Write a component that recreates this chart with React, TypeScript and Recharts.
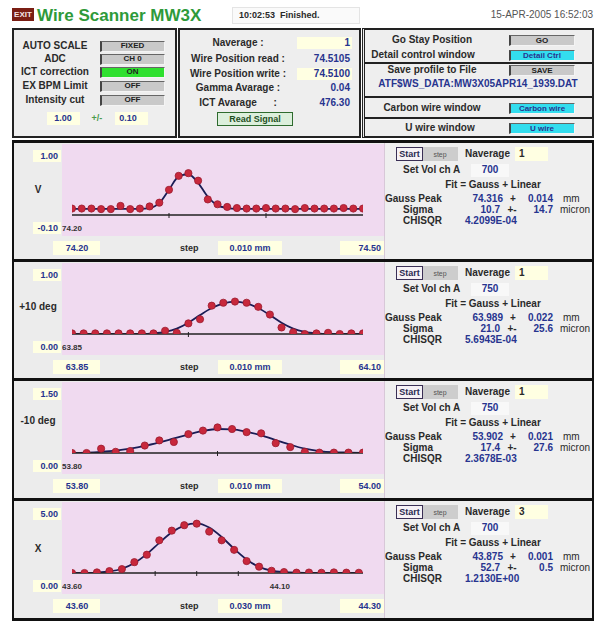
import React from 'react';
import { ComposedChart, Line, XAxis, YAxis } from 'recharts';

const FONT = '"Liberation Sans", "DejaVu Sans", Arial, sans-serif';
const BLUE = '#27348F';
const DARK = '#2A2A2A';
const YEL = '#FFFFE2';
const PINK = '#F0DAF0';
const PANEL_BG = '#ECECEC';

// ---------- Panel 1 (V) ----------
const p1Start = 74.2;
const p1End = 74.5;
const p1Step = 0.01;
const p1Meas = [0.02, 0.02, 0.02, 0.01, 0.01, 0.07, 0.01, 0.02, 0.06, 0.13, 0.37, 0.63, 0.68, 0.54, 0.19, 0.1, 0.05, 0.03, 0.02, 0.02, 0.03, 0.02, 0.02, 0.01, 0.03, 0.02, 0.02, 0.02, 0.03, 0.02, 0.02];
const p1Fit = [0.015, 0.015, 0.015, 0.015, 0.015, 0.015, 0.015, 0.015, 0.03, 0.12, 0.37, 0.62, 0.66, 0.5, 0.24, 0.08, 0.03, 0.015, 0.015, 0.015, 0.015, 0.015, 0.015, 0.015, 0.015, 0.015, 0.015, 0.015, 0.015, 0.015, 0.015];
const p1Y = [-0.1, 1.0];
const p1Marks = [74.3, 74.4];
const p1Labels = [74.2];

// ---------- Panel 2 (+10 deg) ----------
const p2Start = 63.85;
const p2End = 64.1;
const p2Step = 0.01;
const p2Meas = [0.01, 0.01, 0.01, 0.01, 0.01, 0.01, 0.01, 0.01, 0.055, 0.02, 0.18, 0.25, 0.48, 0.53, 0.55, 0.53, 0.46, 0.33, 0.11, 0.03, 0.0, 0.01, 0.02, 0.0, 0.01, 0.01];
const p2Fit = [0, 0, 0, 0, 0, 0, 0, 0.01, 0.035, 0.09, 0.19, 0.32, 0.44, 0.52, 0.55, 0.52, 0.44, 0.32, 0.19, 0.09, 0.035, 0.01, 0, 0, 0, 0];
const p2Y = [0, 1.0];
const p2Marks = [63.95];
const p2Labels = [63.85];

// ---------- Panel 3 (-10 deg) ----------
const p3Start = 53.8;
const p3End = 54.0;
const p3Step = 0.01;
const p3Meas = [0.0, 0.0, 0.11, 0.03, 0.05, 0.19, 0.32, 0.28, 0.48, 0.57, 0.65, 0.61, 0.53, 0.5, 0.25, 0.15, 0.03, 0.01, 0.01, 0.01, 0.01];
const p3Fit = [0.0, 0.01, 0.03, 0.06, 0.11, 0.18, 0.27, 0.37, 0.47, 0.56, 0.61, 0.6, 0.54, 0.45, 0.33, 0.21, 0.11, 0.05, 0.02, 0.01, 0.0];
const p3Y = [0, 1.5];
const p3Marks = [53.9];
const p3Labels = [53.8];

// ---------- Panel 4 (X) ----------
const p4Start = 43.6;
const p4End = 44.3;
const p4Step = 0.03;
const p4Meas = [0.0, 0.0, 0.05, 0.16, 0.33, 0.92, 1.55, 2.77, 3.59, 4.05, 4.18, 3.51, 2.77, 1.96, 1.01, 0.54, 0.19, 0.08, 0.03, 0.04, 0.02, 0.05, 0.03, 0.02];
const p4Fit = [0, 0.01, 0.04, 0.13, 0.36, 0.85, 1.6, 2.55, 3.45, 4.02, 4.2, 3.85, 3.05, 2.05, 1.15, 0.52, 0.2, 0.07, 0.02, 0.01, 0, 0, 0, 0];
const p4Y = [0, 5.0];
const p4Marks = [43.8, 43.9, 44.0];
const p4Labels = [43.6, 44.1];

// ---------- Text tables ----------
const sideLabels = ['V', '+10 deg', '-10 deg', 'X'];
const topLabels = ['1.00', '1.00', '1.50', '5.00'];
const bottomLabels = ['-0.10', '0.00', '0.00', '0.00'];
const rangeLeft = ['74.20', '63.85', '53.80', '43.60'];
const rangeRight = ['74.50', '64.10', '54.00', '44.30'];
const stepTexts = ['0.010 mm', '0.010 mm', '0.010 mm', '0.030 mm'];
const navgValues = ['1', '1', '1', '3'];
const setVolValues = ['700', '750', '750', '700'];
const peakValues = ['74.316', '63.989', '53.902', '43.875'];
const peakErrors = ['0.014', '0.022', '0.021', '0.001'];
const sigmaValues = ['10.7', '21.0', '17.4', '52.7'];
const sigmaErrors = ['14.7', '25.6', '27.6', '0.5'];
const chisqValues = ['4.2099E-04', '5.6943E-04', '2.3678E-03', '1.2130E+00'];

type TxtProps = {
  x: number; y: number; children?: React.ReactNode; size?: number; color?: string;
  align?: 'left' | 'right' | 'center'; weight?: number;
};
function Txt({ x, y, children, size = 10, color = DARK, align = 'left', weight = 700 }: TxtProps) {
  const h = size + 4;
  const w = 400;
  let left = x;
  if (align === 'right') left = x - w;
  else if (align === 'center') left = x - w / 2;
  return (
    <div style={{ position: 'absolute', left, top: y - h / 2, width: w, height: h, lineHeight: `${h}px`, fontSize: size, fontWeight: weight, color, textAlign: align, whiteSpace: 'pre', fontFamily: FONT }}>{children}</div>
  );
}

function Box({ x, y, w, h, bg, style }: { x: number; y: number; w: number; h: number; bg?: string; style?: React.CSSProperties }) {
  return <div style={{ position: 'absolute', left: x, top: y, width: w, height: h, background: bg, boxSizing: 'border-box', ...style }} />;
}

function Btn({ x, y, w, h, bg, text, color = '#222', size = 8 }: { x: number; y: number; w: number; h: number; bg: string; text: string; color?: string; size?: number }) {
  return (
    <>
      <Box x={x} y={y} w={w} h={h} bg={bg} style={{ borderLeft: '2px solid #444', borderTop: '1px solid #666', borderRight: '1px solid #f4f4f4', borderBottom: '1px solid #f4f4f4' }} />
      <Txt x={x + w / 2} y={y + h / 2} align="center" size={size} color={color}>{text}</Txt>
    </>
  );
}

type Cfg = {
  start: number; end: number; step: number; meas: number[]; fit: number[];
  y: number[]; marks: number[]; labels: number[];
};

function ScanChart({ cfg }: { cfg: Cfg }) {
  const data = cfg.meas.map((v, i) => ({ x: +(cfg.start + cfg.step * i).toFixed(3), v, f: cfg.fit[i] }));
  const ticks = [...cfg.labels, ...cfg.marks].sort((a, b) => a - b);
  const near = (arr: number[], v: number) => arr.some((m) => Math.abs(m - v) < 1e-6);
  const renderTick = (props: any) => {
    const { x, y, payload } = props;
    const val = Number(payload.value);
    return (
      <g>
        {near(cfg.marks, val) && <line x1={x} x2={x} y1={y - 2} y2={y + 3} stroke="#222" strokeWidth={1} />}
        {near(cfg.labels, val) && (
          <text x={x} y={y + 16} textAnchor="middle" fontSize={8} fontWeight={700} fill="#333" fontFamily={FONT}>{val.toFixed(2)}</text>
        )}
      </g>
    );
  };
  return (
    <ComposedChart width={323} height={92} data={data} margin={{ top: 12, right: 22, bottom: 0, left: 10 }}>
      <XAxis dataKey="x" type="number" domain={[cfg.start, cfg.end]} ticks={ticks} interval={0} tick={renderTick}
        tickLine={false} tickSize={0} tickMargin={0} axisLine={{ stroke: '#222', strokeWidth: 1.3 }} height={21} allowDataOverflow />
      <YAxis type="number" domain={cfg.y} width={0} tick={false} tickLine={false} axisLine={{ stroke: '#666' }} allowDataOverflow />
      <Line type="monotone" dataKey="f" stroke="#1A1D55" strokeWidth={1.8} dot={false} activeDot={false} isAnimationActive={false} />
      <Line dataKey="v" stroke="none" dot={{ r: 3.6, fill: '#C8283C', stroke: '#9A1A2E', strokeWidth: 0.8 }} activeDot={false} isAnimationActive={false} />
    </ComposedChart>
  );
}

const panelCfgs: Cfg[] = [
  { start: p1Start, end: p1End, step: p1Step, meas: p1Meas, fit: p1Fit, y: p1Y, marks: p1Marks, labels: p1Labels },
  { start: p2Start, end: p2End, step: p2Step, meas: p2Meas, fit: p2Fit, y: p2Y, marks: p2Marks, labels: p2Labels },
  { start: p3Start, end: p3End, step: p3Step, meas: p3Meas, fit: p3Fit, y: p3Y, marks: p3Marks, labels: p3Labels },
  { start: p4Start, end: p4End, step: p4Step, meas: p4Meas, fit: p4Fit, y: p4Y, marks: p4Marks, labels: p4Labels },
];
const panelTops = [140, 259, 378, 498];
const sideLabelY = [50, 48, 43, 51];

function Panel({ idx }: { idx: number }) {
  const T = panelTops[idx];
  const H = idx < 3 ? panelTops[idx + 1] - T : 621 - T;
  const cfg = panelCfgs[idx];
  return (
    <div style={{ position: 'absolute', left: 12, top: T, width: 582, height: H, overflow: 'hidden', background: PANEL_BG }}>
      <div style={{ position: 'absolute', left: -12, top: -T, width: 597, height: 621 }}>
        {/* right section */}
        <Box x={385} y={T} w={210} h={H} bg="#EFEFEF" />
        {/* plot */}
        <div style={{ position: 'absolute', left: 62, top: T + 4, width: 323, height: 92, background: PINK }}>
          <ScanChart cfg={cfg} />
        </div>
        {/* left labels */}
        <Box x={33} y={T + 10} w={28} h={12} bg={YEL} />
        <Txt x={58} y={T + 16} align="right" size={9} color={BLUE}>{topLabels[idx]}</Txt>
        <Txt x={38} y={T + sideLabelY[idx]} align="center" size={10}>{sideLabels[idx]}</Txt>
        <Box x={33} y={T + 82} w={28} h={12} bg={YEL} />
        <Txt x={58} y={T + 88} align="right" size={9} color={BLUE}>{bottomLabels[idx]}</Txt>
        {/* bottom row */}
        <Box x={53} y={T + 101} w={47} h={14} bg={YEL} />
        <Txt x={77} y={T + 108} align="center" size={9} color={BLUE}>{rangeLeft[idx]}</Txt>
        <Txt x={180} y={T + 108} size={9}>step</Txt>
        <Box x={218} y={T + 101} w={64} h={14} bg={YEL} />
        <Txt x={250} y={T + 108} align="center" size={9} color={BLUE}>{stepTexts[idx]}</Txt>
        <Box x={340} y={T + 101} w={45} h={14} bg={YEL} />
        <Txt x={381} y={T + 108} align="right" size={9} color={BLUE}>{rangeRight[idx]}</Txt>
        {/* right info */}
        <Box x={396} y={T + 7} w={27} h={14} bg="#F6F2F6" style={{ border: '1.5px solid #3A2F55' }} />
        <Txt x={409.5} y={T + 14} align="center" size={9} color="#2A2A50">Start</Txt>
        <Box x={423} y={T + 7} w={35} h={14} bg="#CDCDCD" />
        <Txt x={440} y={T + 14} align="center" size={7} color="#555" weight={400}>step</Txt>
        <Txt x={465} y={T + 14} size={10}>Naverage</Txt>
        <Box x={515} y={T + 7} w={33} h={14} bg={YEL} />
        <Txt x={519} y={T + 14} size={10} color={DARK}>{navgValues[idx]}</Txt>
        <Txt x={403} y={T + 30} size={10}>Set Vol ch A</Txt>
        <Box x={471} y={T + 24} w={38} h={13} bg="#F8F8F8" />
        <Txt x={490} y={T + 30} align="center" size={10} color={BLUE}>{setVolValues[idx]}</Txt>
        <Txt x={493} y={T + 45} align="center" size={10}>Fit = Gauss + Linear</Txt>
        <Txt x={385} y={T + 59} size={10}>Gauss Peak</Txt>
        <Txt x={503} y={T + 59} align="right" size={10} color={BLUE}>{peakValues[idx]}</Txt>
        <Txt x={513} y={T + 59} align="center" size={10}>+</Txt>
        <Txt x={553} y={T + 59} align="right" size={10} color={BLUE}>{peakErrors[idx]}</Txt>
        <Txt x={563} y={T + 59} size={10} weight={400}>mm</Txt>
        <Txt x={403} y={T + 70} size={10}>Sigma</Txt>
        <Txt x={500} y={T + 70} align="right" size={10} color={BLUE}>{sigmaValues[idx]}</Txt>
        <Txt x={512} y={T + 70} align="center" size={10}>+-</Txt>
        <Txt x={553} y={T + 70} align="right" size={10} color={BLUE}>{sigmaErrors[idx]}</Txt>
        <Txt x={560} y={T + 70} size={10} weight={400}>micron</Txt>
        <Txt x={403} y={T + 81} size={10}>CHISQR</Txt>
        <Txt x={465} y={T + 81} size={10} color={BLUE}>{chisqValues[idx]}</Txt>
      </div>
      {/* borders */}
      <Box x={0} y={0} w={582} h={3} bg="#111" />
      <Box x={0} y={0} w={2} h={H} bg="#111" />
      <Box x={580} y={0} w={2} h={H} bg="#111" />
      <Box x={372} y={3} w={1} h={H} bg="#D8C8D8" />
      {idx === 3 && <Box x={0} y={H - 3} w={582} h={3} bg="#111" />}
    </div>
  );
}

const leftRows = [
  { label: 'AUTO SCALE', btn: 'FIXED', bg: '#C9C9C9', y: 46 },
  { label: 'ADC', btn: 'CH 0', bg: '#C9C9C9', y: 59 },
  { label: 'ICT correction', btn: 'ON', bg: '#2FE02F', y: 72 },
  { label: 'EX BPM Limit', btn: 'OFF', bg: '#C9C9C9', y: 86 },
  { label: 'Intensity cut', btn: 'OFF', bg: '#C9C9C9', y: 100 },
];

const midRows = [
  { label: 'Naverage :', value: '1', y: 43, box: true },
  { label: 'Wire Position read :', value: '74.5105', y: 59, box: false },
  { label: 'Wire Position write :', value: '74.5100', y: 74, box: true },
  { label: 'Gamma Avarage :', value: '0.04', y: 88, box: false },
  { label: 'ICT Avarage      :', value: '476.30', y: 103, box: false },
];

export default function App() {
  return (
    <div style={{ position: 'absolute', left: 0, top: 0, width: 597, height: 621, background: '#FFFFFF', overflow: 'hidden', fontFamily: FONT }}>
      {/* Title row */}
      <Box x={12} y={8} w={22} h={13} bg="#7A1E14" />
      <Txt x={23} y={14.5} align="center" size={8} color="#F4E4E4">EXIT</Txt>
      <Txt x={37} y={15} size={17} color="#2E9A3A">Wire Scanner MW3X</Txt>
      <Box x={232} y={7} w={128} h={17} bg="#FAFAFA" style={{ border: '1px solid #E4E4E4' }} />
      <Txt x={239} y={15.5} size={9}>10:02:53  Finished.</Txt>
      <Txt x={593} y={15} align="right" size={10} color="#555" weight={400}>15-APR-2005 16:52:03</Txt>

      {/* Left box */}
      <Box x={12} y={28} w={165} h={110} bg="#EEEEEE" style={{ border: '2px solid #222' }} />
      {leftRows.map((r) => (
        <React.Fragment key={r.label}>
          <Txt x={55} y={r.y} align="center" size={10}>{r.label}</Txt>
          <Btn x={100} y={r.y - 5.5} w={65} h={11} bg={r.bg} text={r.btn} />
        </React.Fragment>
      ))}
      <Box x={47} y={112} w={33} h={13} bg={YEL} />
      <Txt x={63} y={118.5} align="center" size={9} color={BLUE}>1.00</Txt>
      <Txt x={97} y={118.5} align="center" size={9} color="#4A9A4A">+/-</Txt>
      <Box x={115} y={112} w={33} h={13} bg={YEL} />
      <Txt x={128} y={118.5} align="center" size={9} color={BLUE}>0.10</Txt>

      {/* Middle box */}
      <Box x={178} y={28} w={183} h={110} bg="#EEEEEE" style={{ border: '2px solid #222' }} />
      {midRows.map((r) => (
        <React.Fragment key={r.label}>
          <Txt x={238} y={r.y} align="center" size={10}>{r.label}</Txt>
          {r.box && <Box x={297} y={r.y - 6} w={55} h={12} bg={YEL} />}
          <Txt x={350} y={r.y} align="right" size={10} color={BLUE}>{r.value}</Txt>
        </React.Fragment>
      ))}
      <Box x={217} y={112} w={76} h={14} bg="#DCEFDC" style={{ border: '1.5px solid #2E6B2E' }} />
      <Txt x={255} y={119} align="center" size={9} color="#1F4F1F">Read Signal</Txt>

      {/* Right box */}
      <Box x={362} y={28} w={232} h={110} bg="#EEEEEE" style={{ border: '2px solid #222', borderLeft: '3px double #222' }} />
      <Box x={364} y={62} w={229} h={2} bg="#222" />
      <Box x={364} y={96} w={229} h={2} bg="#222" />
      <Box x={364} y={117} w={229} h={2} bg="#222" />
      <Txt x={432} y={40} align="center" size={10}>Go Stay Position</Txt>
      <Btn x={509} y={35} w={66} h={11} bg="#C9C9C9" text="GO" />
      <Txt x={423} y={55} align="center" size={10}>Detail control window</Txt>
      <Btn x={509} y={50} w={66} h={11} bg="#33DDEE" text="Detail Ctrl" color={BLUE} />
      <Txt x={432} y={70} align="center" size={10}>Save profile to File</Txt>
      <Btn x={509} y={65} w={66} h={11} bg="#C9C9C9" text="SAVE" />
      <Txt x={478} y={84} align="center" size={10} color={BLUE}>ATF$WS_DATA:MW3X05APR14_1939.DAT</Txt>
      <Txt x={432} y={108} align="center" size={10}>Carbon wire window</Txt>
      <Btn x={509} y={103} w={66} h={11} bg="#33DDEE" text="Carbon wire" color={BLUE} />
      <Txt x={440} y={128} align="center" size={10}>U wire window</Txt>
      <Btn x={509} y={123} w={66} h={11} bg="#33DDEE" text="U wire" color={BLUE} />

      {[0, 1, 2, 3].map((i) => <Panel key={i} idx={i} />)}
    </div>
  );
}
